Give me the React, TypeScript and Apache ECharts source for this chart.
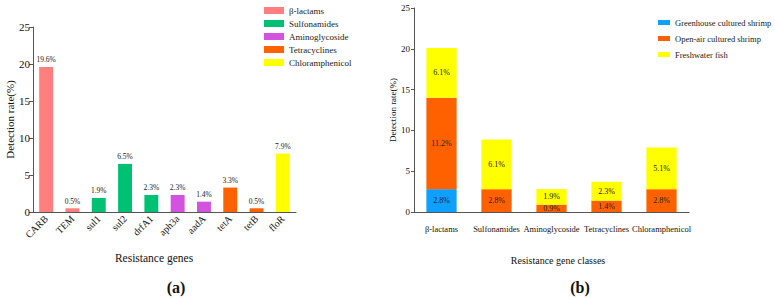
import React, { useEffect, useRef } from "react";
import * as echarts from "echarts";

// Panel (a)
const genes = ["CARB", "TEM", "sul1", "sul2", "drfA1", "aph3a", "aadA", "tetA", "tetB", "floR"];
const geneRates = [19.6, 0.5, 1.9, 6.5, 2.3, 2.3, 1.4, 3.3, 0.5, 7.9];
const geneClassOf = ["β-lactams", "β-lactams", "Sulfonamides", "Sulfonamides", "Sulfonamides", "Aminoglycoside", "Aminoglycoside", "Tetracyclines", "Tetracyclines", "Chloramphenicol"];
const classNames = ["β-lactams", "Sulfonamides", "Aminoglycoside", "Tetracyclines", "Chloramphenicol"];
const classColors = ["#FF7F7F", "#00C173", "#D452E0", "#FF6100", "#FFFF00"];

// Panel (b)
const geneClasses = ["β-lactams", "Sulfonamides", "Aminoglycoside", "Tetracyclines", "Chloramphenicol"];
const sourceNames = ["Greenhouse cultured shrimp", "Open-air cultured shrimp", "Freshwater fish"];
const sourceColors = ["#0DA0FF", "#FF6100", "#FFFF00"];
const greenhouse = [2.8, null, null, null, null];
const openAir = [11.2, 2.8, 0.9, 1.4, 2.8];
const freshwater = [6.1, 6.1, 1.9, 2.3, 5.1];
const sourceValues = [greenhouse, openAir, freshwater];

const yTicks = { min: 0, max: 25, interval: 5 };
const FONT = "'Liberation Serif', 'Times New Roman', serif";

export default function App() {
  const ref = useRef<HTMLDivElement>(null);
  useEffect(() => {
    if (!ref.current) return;
    const chart = echarts.init(ref.current, undefined, { renderer: "svg" });
    const axisLineStyle = { color: "#555", width: 1 };

    const leftSeries = classNames.map((cls, ci) => ({
      name: cls,
      type: "bar",
      xAxisIndex: 0,
      yAxisIndex: 0,
      stack: "genes",
      barWidth: "53%",
      itemStyle: { color: classColors[ci] },
      label: {
        show: true,
        position: "top",
        distance: 3,
        fontSize: 7.5,
        fontFamily: FONT,
        color: "#222",
        formatter: (p: any) => (p.value == null ? "" : p.value + "%"),
      },
      data: genes.map((_, gi) => (geneClassOf[gi] === cls ? geneRates[gi] : null)),
    }));

    const rightSeries = sourceNames.map((name, si) => ({
      name,
      type: "bar",
      xAxisIndex: 1,
      yAxisIndex: 1,
      stack: "src",
      barWidth: "55%",
      itemStyle: { color: sourceColors[si] },
      label: {
        show: true,
        position: "inside",
        fontSize: 8,
        fontFamily: FONT,
        color: "#222",
        formatter: (p: any) => (p.value == null ? "" : p.value + "%"),
      },
      data: sourceValues[si],
    }));

    chart.setOption({
      animation: false,
      textStyle: { fontFamily: FONT },
      grid: [
        { left: 33, top: 27, width: 263, height: 185 },
        { left: 414, top: 8, width: 275, height: 204 },
      ],
      legend: [
        {
          data: classNames,
          orient: "vertical",
          left: 259,
          top: 1,
          itemWidth: 20,
          itemHeight: 7,
          itemGap: 4,
          icon: "rect",
          textStyle: { fontSize: 9, fontFamily: FONT, color: "#222" },
        },
        {
          data: sourceNames,
          orient: "vertical",
          left: 653,
          top: 13,
          itemWidth: 12,
          itemHeight: 5,
          itemGap: 7,
          icon: "rect",
          textStyle: { fontSize: 8.5, fontFamily: FONT, color: "#222" },
        },
      ],
      xAxis: [
        {
          type: "category",
          gridIndex: 0,
          data: genes,
          axisLine: { lineStyle: axisLineStyle },
          axisTick: { alignWithLabel: true, length: 3, lineStyle: axisLineStyle },
          axisLabel: { interval: 0, rotate: 45, fontSize: 10, margin: 5, color: "#111", fontFamily: FONT },
        },
        {
          type: "category",
          gridIndex: 1,
          data: geneClasses,
          axisLine: { lineStyle: axisLineStyle },
          axisTick: { alignWithLabel: true, length: 4, lineStyle: axisLineStyle },
          axisLabel: { interval: 0, hideOverlap: false, fontSize: 8.5, margin: 12, color: "#111", fontFamily: FONT },
        },
      ],
      yAxis: [
        {
          type: "value",
          gridIndex: 0,
          ...yTicks,
          name: "Detection rate(%)",
          nameLocation: "middle",
          nameGap: 17,
          nameTextStyle: { fontSize: 11, fontFamily: FONT, color: "#111" },
          axisLine: { show: true, lineStyle: axisLineStyle },
          axisTick: { show: true, length: 4, lineStyle: axisLineStyle },
          axisLabel: { fontSize: 11, margin: 3, color: "#111", fontFamily: FONT },
          splitLine: { show: false },
        },
        {
          type: "value",
          gridIndex: 1,
          ...yTicks,
          name: "Detection rate(%)",
          nameLocation: "middle",
          nameGap: 17,
          nameTextStyle: { fontSize: 9, fontFamily: FONT, color: "#111" },
          axisLine: { show: true, lineStyle: axisLineStyle },
          axisTick: { show: true, length: 3, lineStyle: axisLineStyle },
          axisLabel: { fontSize: 9, margin: 4, color: "#111", fontFamily: FONT },
          splitLine: { show: false },
        },
      ],
      graphic: [
        { type: "text", x: 154, y: 258, style: { text: "Resistance genes", fontSize: 11.5, fontFamily: FONT, fill: "#111", textAlign: "center", textVerticalAlign: "middle" } },
        { type: "text", x: 558, y: 260, style: { text: "Resistance gene classes", fontSize: 10, fontFamily: FONT, fill: "#111", textAlign: "center", textVerticalAlign: "middle" } },
        { type: "text", x: 176, y: 287, style: { text: "(a)", fontSize: 16, fontWeight: "bold", fontFamily: FONT, fill: "#111", textAlign: "center", textVerticalAlign: "middle" } },
        { type: "text", x: 580, y: 287, style: { text: "(b)", fontSize: 16, fontWeight: "bold", fontFamily: FONT, fill: "#111", textAlign: "center", textVerticalAlign: "middle" } },
      ],
      series: [...leftSeries, ...rightSeries],
    });
    return () => chart.dispose();
  }, []);
  return <div ref={ref} style={{ width: 775, height: 299, position: "absolute", left: 0, top: 0 }} />;
}
